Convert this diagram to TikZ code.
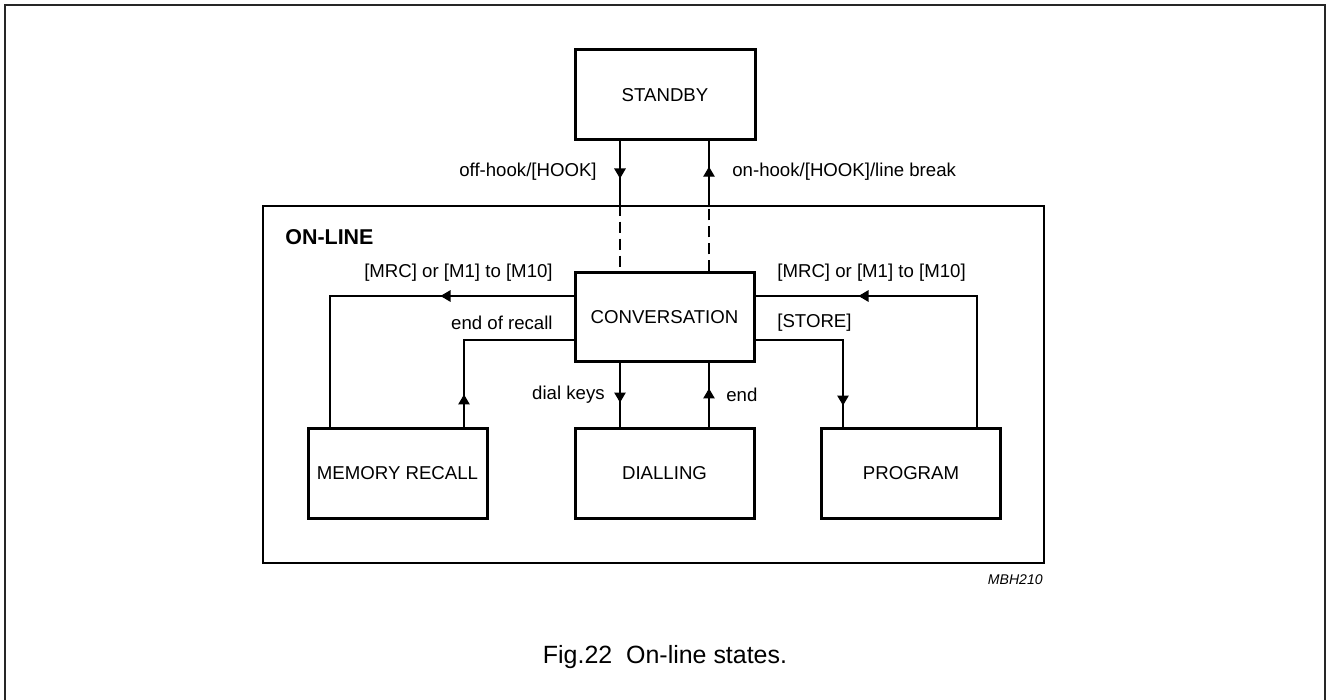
\documentclass[tikz,border=0pt]{standalone}
\usepackage{fontspec}
\setmainfont{Liberation Sans}
\usetikzlibrary{arrows.meta,positioning,decorations.markings}

\tikzset{
  state/.style={draw, line width=0.6mm, minimum width=35.8mm, minimum height=17.8mm, inner sep=0pt, font=\fontsize{10.6}{12}\selectfont},
  link/.style={line width=0.25mm},
  lbl/.style={inner sep=0pt, font=\fontsize{10.6}{12}\selectfont},
  arrowat/.style={postaction={decorate}, decoration={markings, mark=at position #1 with {\arrow{Triangle[width=2.3mm,length=2mm]}}}},
}

\begin{document}
\begin{tikzpicture}[x=0.2mm, y=-0.2mm]
\useasboundingbox (0,0) rectangle (1327,700);
% outer frame, open at the bottom
\draw[line width=0.4mm, black!85] (4.5,700) |- (1325,5) -- (1325,700);

% states
\node[state, minimum width=36mm, minimum height=18mm] (sb) at (665,95) {STANDBY};
\node[draw, line width=0.5mm, minimum width=156.2mm, minimum height=71.4mm] (online) at (653.5,384.5) {};
\node[lbl, anchor=west, font=\fontsize{12.2}{14}\selectfont\bfseries] (ol) at (285,237) {ON-LINE};
\node[state] (conv) at (664.5,317.5) {CONVERSATION};
\node[state] (mem) at (397.5,473.5) {MEMORY RECALL};
\node[state] (dial) at (664.5,473.5) {DIALLING};
\node[state] (prog) at (911,473.5) {PROGRAM};

% helper coordinates
\coordinate (lx) at (620,0);
\coordinate (rx) at (709,0);
\coordinate (row1) at (0,296);
\coordinate (row2) at (0,340);
\coordinate (mrcl) at (330,0);
\coordinate (eorx) at (464,0);
\coordinate (stox) at (843,0);
\coordinate (mrcr) at (977,0);

% connectors
\draw[link, arrowat=7.4mm] (sb.south -| lx) -- (online.north -| lx);
\draw[link, dash pattern=on 2.2mm off 1.2mm] (online.north -| lx) -- (conv.north -| lx);
\draw[link, arrowat=7.6mm] (online.north -| rx) -- (sb.south -| rx);
\draw[link, dash pattern=on 2.2mm off 1.2mm] (conv.north -| rx) -- (online.north -| rx);
\draw[link, arrowat=26.6mm] (conv.west |- row1) -| (mem.north -| mrcl);
\draw[link, arrowat=6.6mm] (mem.north -| eorx) |- (conv.west |- row2);
\draw[link, arrowat=7.8mm] (conv.south -| lx) -- (dial.north -| lx);
\draw[link, arrowat=7.8mm] (dial.north -| rx) -- (conv.south -| rx);
\draw[link, arrowat=30.6mm] (conv.east |- row2) -| (prog.north -| stox);
\draw[link, arrowat=50mm] (prog.north -| mrcr) |- (conv.east |- row1);

% labels
\node[lbl, anchor=east] (offl) at (597,172) {off-hook/[HOOK]};
\node[lbl, anchor=west] (onl) at (732,172) {on-hook/[HOOK]/line break};
\node[lbl, anchor=east] (mrcll) at (553,273) {[MRC] or [M1] to [M10]};
\node[lbl, anchor=east] (eorl) at (553,323) {end of recall};
\node[lbl, anchor=east] (dkl) at (605,395) {dial keys};
\node[lbl, anchor=west] (endl) at (726,395) {end};
\node[lbl, anchor=west] (stol) at (777,323) {[STORE]};
\node[lbl, anchor=west] (mrcrl) at (777,273) {[MRC] or [M1] to [M10]};
\node[lbl, anchor=east, font=\fontsize{8}{10}\selectfont\itshape] (code) at (1043,580) {MBH210};
\node[inner sep=0pt, font=\fontsize{14.2}{16}\selectfont] (cap) at (665,657) {Fig.22\ \ On-line states.};
\end{tikzpicture}
\end{document}
